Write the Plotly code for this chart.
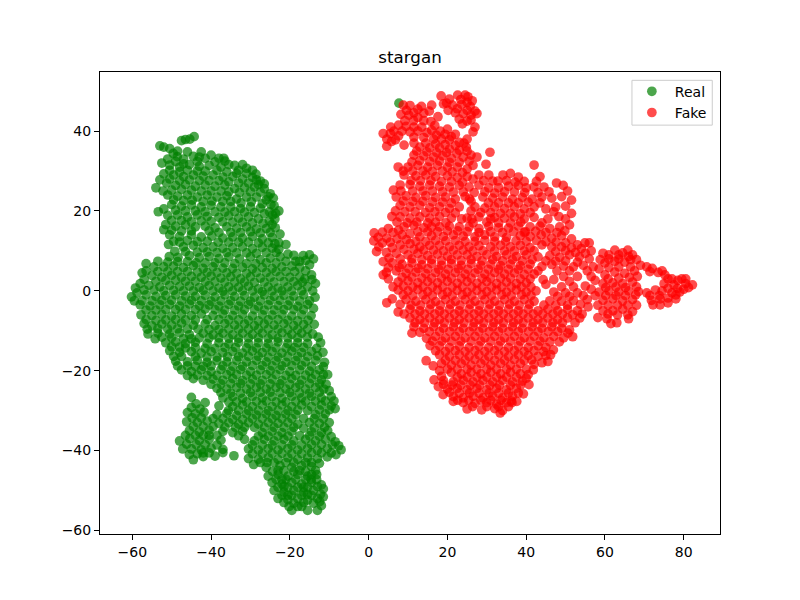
import plotly.graph_objects as go

# ------------------------
# Points (x, y)
# ------------------------

real_points = [
    (7.7, 47),
    (-47.5, 37.6), (-46.5, 37.9), (-45.4, 38), (-44.3, 38.6),
    (-53, 36.3), (-52, 36), (-50.5, 35.6), (-49.6, 34.4), (-48.6, 33.6),
    (-47, 33), (-44.5, 33.7), (-42.5, 34.8), (-41.5, 33.2), (-40, 34), (-38, 33.2),
    (-52.5, 32), (-50.5, 31.5), (-48, 31), (-45.5, 31.6), (-43, 31.2), (-40.5, 31.4), (-37.5, 31), (-35.5, 31.6), (-33, 30.2), (-31, 30.7), (-29.5, 30.2),
    (-52, 29.3), (-49.5, 29), (-47, 28.6), (-44.5, 29), (-42, 28.7), (-39.5, 29), (-37, 28.5), (-34.5, 28.6), (-32, 28), (-29.5, 28.4), (-27.5, 27.5),
    (-54, 25.8), (-51.3, 27), (-49, 26.4), (-46.5, 26.6), (-44, 26.2), (-41.5, 26.5), (-39, 26.2), (-36.5, 26.5), (-34, 25.6), (-31.5, 25.8), (-29, 26), (-26.5, 25.6), (-25, 24.3),
    (-51, 24), (-48.5, 23.7), (-46, 24), (-43.5, 23.5), (-41, 24), (-38.5, 23.5), (-36, 23.8), (-33.5, 23), (-31, 23.5), (-28.5, 23.5), (-26, 22.8), (-24, 21.3),
    (-50, 21.6), (-47.5, 21.2), (-45, 21.5), (-42.5, 21), (-40, 21.4), (-37.5, 21), (-35, 21), (-32.5, 20.6), (-30, 21), (-27.5, 20.7), (-25.2, 19.8), (-22.8, 20),
    (-53.4, 19.8), (-51, 18.9), (-48.5, 19), (-46, 18.5), (-43.5, 19), (-41, 18.6), (-38, 18.4), (-35.5, 18.8), (-33, 18.2), (-30.5, 18.5), (-28, 18), (-25.2, 17.5),
    (-51.5, 16.6), (-49, 16.2), (-46.5, 16.5), (-44, 16), (-41.5, 16.2), (-39, 15.8), (-36, 16), (-33.5, 15.7), (-31, 16), (-28.5, 15.5), (-26, 15.6), (-23.7, 15.8),
    (-50.5, 14), (-48, 13.6), (-45, 14), (-42.5, 13.5), (-39.8, 13.7), (-37, 13.2), (-34.5, 13.5), (-32, 13.2), (-29.5, 13.6), (-27, 13), (-24.5, 13.4), (-22.8, 12),
    (-50.8, 11.6), (-47, 11), (-44.5, 11.4), (-42, 10.8), (-39.5, 11), (-37, 10.7), (-34.5, 10.8), (-32, 11), (-29.5, 10.6), (-27, 10.9), (-24.5, 10.7), (-21, 11.6),
    (-50.6, 8.6), (-48.4, 8.4), (-45.5, 8.8), (-43, 8.3), (-40.5, 8.6), (-38, 8.1), (-35.5, 8.5), (-32.8, 8), (-30, 8.5), (-27.5, 7.8), (-25, 8.2), (-22.5, 8.5), (-19, 8.9), (-16.6, 8.8), (-15, 9),
    (-56.5, 6.8), (-54.5, 6), (-52, 6), (-49.5, 6.2), (-47, 5.8), (-44.5, 6.3), (-42, 5.6), (-39.5, 6), (-37, 5.7), (-34.5, 5.6), (-32, 5.9), (-29.5, 5.5), (-27, 5.8), (-24.5, 5.6), (-22, 6), (-19.5, 6.2), (-17.5, 5.8), (-15, 6.5),
    (-57.5, 4.5), (-55, 3.8), (-52.5, 3.4), (-50, 3.9), (-47.5, 3.4), (-45, 3.6), (-42.5, 3.4), (-40, 3.7), (-37.5, 3.2), (-35, 3.5), (-32.5, 3), (-30, 3.5), (-27.5, 3.2), (-25, 3.4), (-22.5, 3.6), (-20, 3.4), (-17.5, 3.5), (-14.5, 4),
    (-58, 1.8), (-55.8, 1.4), (-53, 1), (-50.5, 1.4), (-48, 1.1), (-45.5, 1.2), (-43, 0.8), (-40.5, 1.3), (-38, 0.7), (-35.5, 1), (-33, 0.9), (-30.5, 1.2), (-28, 0.5), (-25.5, 1), (-23, 0.7), (-20.5, 1), (-18, 1.3), (-15.5, 1), (-13.5, 1.8),
    (-60.2, -1.5), (-58.8, -0.5), (-56.5, -1), (-54, -1.4), (-51.5, -1.2), (-49, -1), (-46.5, -1.3), (-44, -1.4), (-41.5, -1.1), (-39, -1.5), (-36.5, -1), (-34, -1.4), (-31.5, -1.2), (-29, -1.6), (-26.5, -1), (-24, -1.4), (-21.5, -1.1), (-19, -1.3), (-16.5, -1), (-13.6, -1.6),
    (-58, -3.5), (-55.5, -3.8), (-53, -3.5), (-50.5, -3.4), (-48, -3.8), (-45.5, -3.3), (-43, -3.7), (-40.5, -3.5), (-38, -3.8), (-35.5, -3.4), (-33, -3.8), (-30.5, -3.4), (-28, -3.9), (-25.5, -3.5), (-23, -3.7), (-20.5, -3.6), (-18, -3.9), (-15.5, -3.4),
    (-57.8, -6), (-55, -6.2), (-52.5, -5.9), (-50, -6.3), (-47.5, -5.8), (-45, -6.2), (-42.5, -5.8), (-39.5, -6.2), (-37, -5.8), (-34.5, -6.2), (-32, -5.9), (-29.5, -6.3), (-27, -6), (-24.5, -6.1), (-22, -5.9), (-19.5, -6.3), (-17, -6), (-14.6, -6.2),
    (-57, -8.2), (-55, -8.8), (-52.5, -8.3), (-50, -8.6), (-47.5, -8.1), (-44.5, -8.6), (-41.5, -8.3), (-39, -8.7), (-36.5, -8.2), (-34, -8.6), (-31.5, -8.3), (-29, -8.7), (-26.5, -8.3), (-24, -8.6), (-21.5, -8.2), (-19, -8.7), (-16.5, -8.4), (-13.8, -8.4),
    (-56, -10.8), (-53.5, -10.6), (-50.5, -10.8), (-48, -10.5), (-45.5, -11), (-42, -10.6), (-39.5, -11), (-37, -10.6), (-34.5, -11), (-32, -10.6), (-29.5, -10.9), (-27, -10.6), (-24.5, -11), (-22, -10.5), (-19.5, -10.9), (-17, -10.6), (-14.2, -10.8),
    (-54.2, -12), (-51.5, -13), (-49, -12.8), (-46.5, -13.2), (-44, -12.9), (-41, -13.2), (-38, -13), (-35.5, -13.3), (-33, -12.9), (-30.5, -13.2), (-28, -13), (-25.5, -13.2), (-23, -12.8), (-20.5, -13.2), (-18, -13), (-15.5, -13.2), (-12.2, -13),
    (-50.5, -15), (-48, -15.4), (-45, -15.2), (-42.5, -15.6), (-40, -15.2), (-37, -15.5), (-34.5, -15.2), (-32, -15.6), (-29.5, -15.1), (-27, -15.5), (-24.5, -15.2), (-22, -15.6), (-19.5, -15.1), (-17, -15.5), (-14.5, -15.2), (-11.6, -15.4),
    (-49, -17.6), (-46, -17.8), (-43.5, -17.4), (-41, -17.9), (-38.5, -17.5), (-36, -17.8), (-33.5, -17.4), (-31, -17.8), (-28.5, -17.4), (-26, -17.8), (-23.5, -17.5), (-21, -17.9), (-18.5, -17.5), (-16, -17.8), (-13.5, -17.4), (-11.2, -17.9),
    (-47.5, -19.8), (-45, -20.2), (-42.5, -19.8), (-40, -20.2), (-37.5, -19.7), (-35, -20.1), (-32.5, -19.7), (-30, -20.2), (-27.5, -19.8), (-25, -20), (-22.5, -19.7), (-20, -20.2), (-17.5, -19.8), (-15, -20.1), (-12.5, -19.8),
    (-44.5, -22), (-42, -22.4), (-39.5, -22.1), (-37, -22.4), (-34.5, -22), (-32, -22.5), (-29.5, -22.1), (-27, -22.4), (-24.5, -22.1), (-22, -22.5), (-19.5, -22), (-17, -22.4), (-14.5, -22), (-12, -22.3), (-10.4, -21),
    (-38.5, -24.4), (-36, -24.6), (-33.5, -24.2), (-31, -24.6), (-28.5, -24.2), (-26, -24.6), (-23.5, -24.2), (-21, -24.6), (-18.5, -24.2), (-16, -24.6), (-13.5, -24.2), (-11.4, -24.6),
    (-37, -26.8), (-34.5, -26.5), (-32, -26.9), (-29.5, -26.4), (-27, -26.8), (-24.5, -26.5), (-22, -26.9), (-19.5, -26.4), (-17, -26.8), (-14.5, -26.4), (-12, -26.8), (-9.5, -26.5),
    (-45, -26.7), (-43.8, -28.3), (-41.5, -28), (-38, -28.8),
    (-34.5, -29), (-32, -28.6), (-29.5, -29), (-27, -28.6), (-24.5, -29), (-22, -28.6), (-19.5, -29), (-17, -28.6), (-14.5, -29), (-12, -28.6), (-9.5, -28.8),
    (-46, -30.5), (-44, -30.8), (-41.8, -30.4), (-38.5, -31), (-36, -30.7), (-33.5, -31.2), (-31, -30.8), (-28.5, -31.1), (-26, -30.8), (-23.5, -31.2), (-21, -30.8), (-18.5, -31), (-13.5, -31), (-11, -30.8), (-8.5, -29.5),
    (-46.2, -32.8), (-43.5, -33), (-41, -32.6), (-38, -33.2), (-35.5, -33), (-33, -33.4), (-30.5, -33), (-28, -33.4), (-25.5, -33), (-23, -33.2), (-20.5, -33), (-18, -33.4), (-15, -33), (-12.5, -33.2), (-10, -33),
    (-45.5, -35), (-43, -35.3), (-40.5, -34.9), (-37, -35.2), (-34.5, -35.5), (-32, -35.2), (-27, -35.5), (-24.5, -35.2), (-22, -35.5), (-19.5, -35.2), (-14.5, -35.3), (-12, -35.5), (-10.4, -35),
    (-45.4, -37), (-48, -37.6), (-43, -37.5), (-40.5, -37.2), (-37.5, -37.4), (-31.5, -37.2), (-29, -37.6), (-26.5, -37.2), (-24, -37.6), (-21.5, -37.2), (-19, -37.6), (-16, -37.2), (-13.5, -37.6), (-11, -37.2), (-8.5, -37.8),
    (-47.2, -39.6), (-45, -39.6), (-42.5, -39.8), (-40, -39.4), (-37, -39.7), (-30.5, -39.6), (-28, -39.9), (-25.5, -39.5), (-23, -39.9), (-20.5, -39.5), (-18, -39.9), (-15.5, -39.5), (-13, -39.9), (-10.5, -39.5), (-7, -39.8), (-8.3, -41),
    (-45.5, -41), (-44.5, -42.3), (-42, -41.5), (-39, -41.4), (-34.2, -41.3), (-37, -40.5),
    (-30.5, -42), (-28, -42.2), (-25.5, -41.8), (-23, -42.2), (-20.5, -41.8), (-18, -42.2), (-15.5, -41.8), (-13, -42), (-10.5, -41.6),
    (-29.2, -43.5), (-26, -44.2), (-22.5, -43.8), (-19.5, -44.2), (-17, -43.8), (-14.5, -44),
    (-25.5, -46.4), (-23, -46), (-20.5, -46.4), (-18, -46), (-15.5, -46.4), (-13.2, -46),
    (-24.5, -48), (-22, -48.4), (-19.5, -48), (-17, -48.4), (-14.5, -48), (-12, -48.6),
    (-24, -50), (-21.5, -50.4), (-19, -50), (-16.5, -50.4), (-14, -50), (-11.5, -49.6),
    (-23, -52), (-20.5, -52.3), (-18, -52), (-15.5, -52.4), (-13, -52), (-11.5, -51.6),
    (-20.2, -54), (-19.5, -55), (-17, -54), (-15.5, -55), (-13, -55), (-12, -53.8),
]

# denser second pass over the same cloud, holes left where the picture shows white
real_more = [
    (-46, 34.8), (-43.5, 32.4), (-39, 32.3), (-36.5, 32.5), (-34, 31.4), (-51, 33), (-49, 32.4),
    (-50.5, 30.2), (-46, 30.2), (-41.5, 30), (-38.5, 30.2), (-33.5, 29.4), (-31, 29.4), (-28.6, 29.2),
    (-53, 27.8), (-48, 27.6), (-45.5, 27.8), (-40.5, 27.6), (-35.5, 27.3), (-30.5, 27), (-26.5, 26.8),
    (-50, 25.2), (-47.5, 25.4), (-42.5, 25), (-37.5, 25), (-32.8, 24.6), (-27.5, 24.7), (-24.2, 23.2),
    (-49.5, 22.8), (-44.8, 22.7), (-39.8, 22.5), (-35, 22.4), (-29.8, 22.3), (-27, 21.8), (-23.6, 19.4),
    (-52, 20.5), (-46.5, 20), (-41.5, 19.8), (-36.5, 19.7), (-31.5, 19.7), (-26.5, 19.3), (-23.8, 18),
    (-50, 17.6), (-45, 17.3), (-42.5, 17.5), (-37, 17.3), (-34.5, 17.2), (-29.5, 17), (-24.5, 16.6),
    (-52, 15.3), (-47.5, 15), (-40.5, 15), (-38, 14.6), (-32.5, 14.6), (-27.5, 14.5), (-22.5, 14.2),
    (-49.5, 12.4), (-46, 12.6), (-41, 12.4), (-35.5, 12.2), (-30.5, 12.2), (-25.5, 12), (-22.8, 10.4),
    (-49.2, 9.9), (-43.5, 9.7), (-38.5, 9.6), (-33.5, 9.5), (-28.5, 9.4), (-23.5, 9.6), (-20.5, 9.2), (-17.5, 7.4),
    (-53.5, 7.4), (-51, 7.2), (-46, 7.3), (-41.5, 7), (-36.5, 7), (-31, 6.8), (-26, 7), (-21, 7.4), (-16, 7.6), (-14, 8),
    (-56.5, 5), (-53.5, 4.8), (-48.5, 4.8), (-43.5, 4.7), (-38.5, 4.6), (-33.5, 4.4), (-28.5, 4.6), (-23.5, 4.8), (-18.8, 4.8), (-16, 5),
    (-57, 2.9), (-54, 2.4), (-49, 2.6), (-44, 2.4), (-39, 2.3), (-34, 2.2), (-29, 2.1), (-24, 2.2), (-19, 2.3), (-14.4, 2.8),
    (-59.2, 0.7), (-57, 0.2), (-52, 0), (-47, 0), (-42, 0.1), (-37, -0.1), (-32, 0), (-27, -0.2), (-22, 0), (-17, 0), (-14.2, 0),
    (-59.5, -2.5), (-55, -2.5), (-50, -2.4), (-45, -2.4), (-40, -2.6), (-35, -2.5), (-30, -2.6), (-25, -2.4), (-20, -2.5), (-15, -2.5),
    (-56.5, -4.8), (-51.5, -4.7), (-46.5, -4.7), (-41.5, -4.6), (-36.5, -4.8), (-31.5, -4.7), (-26.5, -4.8), (-21.5, -4.7), (-16.5, -4.7), (-14, -4.4),
    (-54, -7.4), (-49, -7.2), (-44, -7.3), (-38, -7.2), (-33, -7.3), (-28, -7.5), (-23, -7.2), (-18, -7.5), (-15.4, -7.4),
    (-56.2, -9.6), (-51, -9.6), (-46, -9.5), (-40.5, -9.7), (-35.5, -9.6), (-30.5, -9.6), (-25.5, -9.6), (-20.5, -9.7), (-15.5, -9.6),
    (-52.5, -11.6), (-47, -12), (-43, -11.8), (-38, -11.8), (-33, -11.9), (-28, -11.8), (-23, -11.9), (-18, -11.8), (-15.6, -11.6), (-12.8, -11.6),
    (-50, -14), (-46.5, -14.3), (-41.5, -14.4), (-36.5, -14.2), (-31, -14.3), (-26, -14.3), (-21, -14.3), (-16.5, -14.2), (-13.2, -14.4),
    (-47.5, -16.4), (-44, -16.5), (-38.5, -16.6), (-33, -16.5), (-28, -16.4), (-23, -16.6), (-18, -16.5), (-13, -16.3),
    (-48.5, -18.8), (-44, -18.9), (-40, -18.8), (-34.5, -18.9), (-29.5, -18.7), (-24.5, -18.8), (-19.5, -18.7), (-14.5, -18.9), (-11.5, -19),
    (-46, -21.2), (-41, -21.2), (-36, -21), (-31, -21.1), (-26, -21), (-21, -21.2), (-16, -21.1), (-11.5, -21),
    (-40, -23.4), (-35, -23.2), (-30, -23.3), (-25, -23.3), (-20, -23.4), (-15, -23.2), (-10.8, -23.4),
    (-37.5, -25.5), (-32.5, -25.6), (-27.5, -25.4), (-22.5, -25.5), (-17.5, -25.6), (-12.5, -25.4), (-10, -25),
    (-35.5, -27.8), (-31, -27.8), (-26, -27.6), (-21, -27.8), (-16, -27.7), (-11, -27.6), (-8.8, -27.6),
    (-42.8, -29.6), (-45, -29.2), (-33, -30), (-28, -30), (-23, -30), (-18, -29.9), (-12.5, -29.8), (-10, -29.8),
    (-44.8, -31.8), (-42.5, -31.8), (-39.5, -32), (-34.5, -32.2), (-29.5, -32), (-24.5, -32), (-19.5, -32), (-16.5, -32), (-11.5, -32),
    (-44.5, -34), (-39.5, -34), (-36.5, -34.2), (-31.5, -34.2), (-26.5, -34.2), (-21.5, -34.2), (-16.5, -34.4), (-11.2, -34.2),
    (-46.5, -36.2), (-42, -36.2), (-38.5, -36.2), (-33, -36.3), (-28, -36.4), (-23, -36.4), (-17.5, -36.3), (-12.5, -36.4), (-9.5, -36.5),
    (-46.2, -38.4), (-41.5, -38.5), (-38.5, -38.6), (-29.5, -38.6), (-24.5, -38.6), (-19.5, -38.6), (-14.5, -38.5), (-9.2, -38.6), (-7.6, -38.8),
    (-43.5, -40.8), (-40.5, -40.6), (-29.5, -40.8), (-24.5, -40.7), (-19.5, -40.8), (-14.5, -40.6), (-9.5, -40.6),
    (-27.5, -43), (-24, -43), (-21, -43), (-16, -43), (-12.5, -43.2),
    (-24.4, -45.2), (-21.5, -45), (-19, -45.2), (-16, -45.2), (-13.5, -45),
    (-23.5, -47.2), (-21, -47.2), (-18.5, -47.2), (-16, -47.2), (-13.2, -47.3),
    (-23, -49.2), (-20.5, -49.2), (-18, -49.2), (-15.5, -49.2), (-13, -49),
    (-22, -51.2), (-19.5, -51.2), (-17, -51.2), (-14.5, -51.2), (-12.2, -50.9),
    (-21.5, -53), (-19, -53.2), (-16.5, -53), (-14, -53.2), (-12.4, -52.8),
]

# third pass, fills the lattice gaps in the green cloud
real_fill = [
    (-48.5, 35), (-43, 33.5), (-36.8, 33.2), (-32, 31.6), (-47, 31.8), (-48, 29.8), (-43.5, 30), (-36, 29.8), (-28.5, 27.8),
    (-50.5, 28), (-43, 27.6), (-38, 27.6), (-33, 27), (-28, 26.6), (-52.2, 25), (-45, 25.2), (-40, 25), (-35.5, 24.8), (-30, 24.8), (-25.5, 23.6),
    (-47, 22.6), (-42, 22.4), (-37, 22.4), (-32.4, 22), (-24.8, 21.6), (-49, 20.2), (-44, 20), (-39, 19.8), (-34, 19.8), (-29, 19.6), (-24.4, 19),
    (-47.5, 17.6), (-40, 17.4), (-32, 17.2), (-26.8, 16.9), (-50, 15.2), (-45, 15), (-35, 14.6), (-30, 14.8), (-25, 14.6),
    (-48, 12.2), (-43.5, 12.3), (-38.2, 12.2), (-33, 12.2), (-28, 12), (-23.8, 11.8), (-46.5, 9.8), (-41, 9.7), (-36, 9.6), (-31, 9.5), (-26, 9.6),
    (-48.5, 7.3), (-43.8, 7), (-39, 7), (-34, 6.8), (-28.7, 6.8), (-23.5, 7), (-18.5, 7.4), (-51, 4.8), (-46, 4.8), (-41, 4.6), (-36, 4.5), (-31, 4.4), (-26, 4.6), (-21, 4.8), (-16.2, 3),
    (-51.5, 2.6), (-46.5, 2.4), (-41.5, 2.3), (-36.5, 2.2), (-31.5, 2.2), (-26.5, 2.2), (-21.5, 2.3), (-16.8, 2.2),
    (-54.5, 0.2), (-49.5, 0.1), (-44.5, 0), (-39.5, 0), (-34.5, 0), (-29.5, 0), (-24.5, 0), (-19.5, 0), (-57.5, -2.5), (-52.5, -2.4), (-47.5, -2.5), (-42.5, -2.5), (-37.5, -2.5), (-32.5, -2.6), (-27.5, -2.5), (-22.5, -2.4), (-17.5, -2.5),
    (-54, -4.8), (-49, -4.7), (-44, -4.7), (-39, -4.7), (-34, -4.8), (-29, -4.7), (-24, -4.8), (-19, -4.7), (-56.5, -7.2), (-51.5, -7.3), (-46.5, -7.3), (-41, -7.2), (-35.5, -7.3), (-30.5, -7.4), (-25.5, -7.3), (-20.5, -7.4),
    (-53.5, -9.5), (-48.5, -9.5), (-43.3, -9.6), (-38, -9.7), (-33, -9.6), (-28, -9.6), (-23, -9.6), (-18, -9.7), (-50, -11.7), (-45, -12), (-40.5, -11.8), (-35.5, -11.9), (-30.5, -11.8), (-25.5, -11.9), (-20.5, -11.8),
    (-48, -14.1), (-44, -14.2), (-39, -14.4), (-33.8, -14.2), (-28.5, -14.3), (-23.5, -14.3), (-18.8, -14.2), (-49.5, -16.4), (-41, -16.6), (-35.8, -16.5), (-30.5, -16.4), (-25.5, -16.6), (-20.5, -16.5), (-15.5, -16.4),
    (-46, -18.8), (-42, -18.9), (-37, -18.8), (-32, -18.9), (-27, -18.7), (-22, -18.8), (-17, -18.7), (-43.5, -21.1), (-38.5, -21.2), (-33.5, -21), (-28.5, -21.1), (-23.5, -21), (-18.5, -21.2), (-13.5, -21),
    (-37.5, -23.3), (-32.5, -23.2), (-27.5, -23.3), (-22.5, -23.3), (-17.5, -23.4), (-12.5, -23.2), (-35, -25.6), (-30, -25.5), (-25, -25.4), (-20, -25.5), (-15, -25.6), (-33.5, -27.8), (-28.5, -27.7), (-23.5, -27.8), (-18.5, -27.7), (-13.5, -27.6),
    (-35.6, -30), (-30.5, -30), (-25.5, -30), (-20.5, -30), (-15.5, -30), (-37, -32), (-32, -32.2), (-27, -32), (-22, -32), (-13.8, -32), (-42, -34), (-33.8, -34.2), (-29, -34.2), (-24, -34.2), (-19, -34.2), (-13.8, -34.3),
    (-44, -36.2), (-40.5, -36.2), (-25.5, -36.4), (-20.5, -36.4), (-15, -36.3), (-43.8, -38.5), (-27, -38.6), (-22, -38.6), (-17, -38.6), (-12, -38.5), (-27, -40.8), (-22, -40.7), (-17, -40.8), (-12, -40.6), (-42, -40.6),
    (-25.8, -43), (-19, -43), (-14.5, -43), (-23, -45), (-17.5, -45), (-14.5, -46), (-22, -47.2), (-14.6, -47.2), (-21.5, -49), (-16.5, -49.2), (-20.5, -51.2), (-15.5, -51), (-18, -54),
]

fake_points = [
    (18.4, 48.8), (20.5, 48), (22.6, 49), (24.5, 49), (25.2, 48.6), (26.3, 47.6),
    (19, 46.8), (21.3, 46.5), (23.6, 46.7), (25.8, 46.2), (27, 45),
    (16, 46.5), (15.4, 45), (22, 44.6), (24, 44.4), (26, 44), (27.5, 44.4),
    (8.8, 46.5), (10.5, 46.4), (12.5, 45.5), (14, 44.5), (8.2, 44.2), (10.2, 44), (12.5, 43.4), (15.8, 42.4), (17.6, 43.6), (23.8, 41.8), (25, 42.5),
    (5.6, 41), (7.6, 41.5), (9.5, 41.2), (11.5, 41), (13.5, 41), (16, 40.2), (18.2, 40), (20, 40.5), (22, 39.2), (26.5, 39.8), (27, 41),
    (3.7, 39.4), (5.5, 39.4), (7.6, 38.8), (11.5, 38.5), (14, 38.4), (16.5, 38), (18.5, 38), (20.5, 37.8), (23, 37.2), (25, 38),
    (4.6, 36.2), (5.8, 37.4), (9, 36.5), (13, 36), (15.5, 35.8), (18, 35.8), (20.5, 35.5), (23, 35.2), (24.8, 36),
    (11.5, 34), (14, 33.8), (16.5, 33.5), (18.8, 33.8), (21, 33.2), (24, 33.5), (26, 34), (27.5, 33.5), (30.8, 34.7),
    (7.5, 31), (10, 31), (12.5, 31.4), (15, 31), (17.5, 31.4), (20, 31), (22.5, 31), (25, 30.5), (26.5, 31.4), (29.8, 31.7), (42, 31.5),
    (9, 29), (12, 28.8), (14.5, 29), (17, 28.6), (20, 28.8), (22.5, 28.4), (25, 28.6), (28, 29), (30.5, 29), (32.8, 27.5), (34.1, 29), (36, 29.4), (38, 28.5),
    (6.3, 25.2), (8, 26.5), (10.5, 26.6), (13, 26.2), (15.5, 26.5), (18, 26.2), (20.5, 26), (23, 26.4), (25.5, 26), (28, 26.5), (30.5, 25.8), (33, 25.8), (35.5, 26.2), (38, 26.4), (40, 25.8), (43.5, 28.6), (42, 26), (44.5, 26), (47.7, 27), (49.4, 26.4),
    (7, 23.5), (9.5, 23.8), (12, 23.4), (14.5, 23.8), (17, 23.4), (19.5, 23.5), (22, 23), (24.5, 23.6), (29, 23.5), (31.5, 23.2), (34, 23.5), (36.5, 23), (39, 23.4), (41.5, 23), (44, 23.5), (46.5, 23.2), (49, 23.6), (51.5, 22.7),
    (8, 21.4), (10.5, 21), (13, 21.4), (15.5, 20.8), (18, 21), (20.5, 20.6), (23, 21), (27, 21), (29.5, 20.7), (32, 21), (34.5, 20.6), (37, 21), (39.5, 20.5), (42, 21), (45, 20.5), (47.5, 21), (50, 21.2),
    (5.9, 18.6), (8, 18.5), (10.5, 18.2), (13, 18.5), (15.5, 18.2), (18, 18.6), (21, 18.2), (25, 18.2), (28, 18.5), (32, 18.4), (34.5, 18.2), (37, 18.5), (39.5, 18), (42, 18.4), (45.5, 18), (48.3, 18.6), (51.5, 19.4),
    (9, 16), (11.5, 16.4), (14, 15.8), (18, 16), (20.5, 16.2), (23, 16), (25.5, 16), (28, 15.6), (30.5, 16.2), (33, 15.8), (35.5, 15.7), (38, 16.2), (41, 16), (43.5, 16.2), (46, 15.6), (48.5, 16), (51, 16.5),
    (1.4, 14.5), (3.5, 14.7), (6.2, 14.6), (8.5, 14), (10.5, 14.3), (13, 13.5), (16, 13.8), (19, 13.6), (21.5, 14), (24, 13.7), (27, 13.5), (29.5, 14), (32, 13.5), (35, 13.4), (38.5, 13.8), (41, 13.6), (43.8, 14), (46.5, 13.2), (49, 13.8), (51.5, 13), (54.9, 12), (56, 12),
    (1.3, 12.5), (3.5, 12), (5.5, 12.2), (8, 11.5), (10.5, 11.8), (13, 11), (15.5, 11.4), (18, 11.4), (20.5, 11), (23, 11.4), (25.5, 11), (28, 11.3), (31, 11), (33.5, 11.4), (36, 11), (38.5, 11.4), (41, 10.8), (44, 11.5), (46.5, 11), (49, 11), (51.5, 10.8), (54, 10.6), (56.5, 10),
    (2, 9.8), (4.5, 9.6), (7, 9.4), (10, 9), (12.5, 9.4), (15, 8.8), (17.5, 9.2), (20, 8.7), (22.5, 9), (25, 9), (27.5, 8.6), (30, 9), (32.5, 8.6), (35, 9), (37.5, 8.6), (40, 9), (43, 8.5), (46, 8.8), (48.5, 8.4), (51, 9), (53.5, 8.5), (56, 8), (59.5, 9.4), (62.5, 10.2), (64.5, 9.5), (65.8, 10.2), (67, 9),
    (3.7, 7.3), (6, 7), (8.5, 6.6), (11, 7), (13.5, 6.5), (16, 6.8), (18.5, 6.4), (21, 6.8), (23.5, 6.4), (26, 6.8), (28.5, 6.4), (31, 6.7), (33.5, 6.3), (36, 6.7), (38.5, 6.3), (41, 6.7), (44, 6.1), (46.5, 6.6), (49.5, 6.2), (52, 6), (54.5, 6.4), (57, 6), (60, 7), (62.5, 7.4), (65, 7.2), (68, 7.8), (70.6, 6), (72, 5.6),
    (4.5, 4.6), (7, 5), (9.5, 4.4), (12, 4.7), (14.5, 4.3), (17, 4.6), (19.5, 4.2), (22, 4.6), (24.5, 4.2), (27, 4.5), (29.5, 4.2), (32, 4.6), (34.5, 4.2), (37, 4.5), (39.5, 4.1), (42, 4.2), (44.3, 2.8), (47, 2.8), (49.5, 3.6), (53, 3.6), (56.5, 3.6), (60, 4), (62.5, 4.7), (65, 4.4), (67.5, 5), (73.5, 4.6), (75.2, 4), (77, 3),
    (3.7, 4), (7.5, 2.2), (10, 2.5), (12.5, 2), (15, 2.3), (17.5, 2), (20, 2.4), (22.5, 1.9), (25, 2.3), (27.5, 1.9), (30, 2.3), (32.5, 1.8), (35, 2.2), (37.5, 1.8), (40, 2), (49, 1), (52, 1), (55, 1.2), (59.5, 1.8), (62, 2), (64.5, 1.8), (67, 2.2), (75, 1.8), (77.5, 1.5), (79.5, 3), (80.5, 1.8), (82.2, 1.5),
    (7.5, 0.2), (10, 0), (12.5, 0.3), (15, -0.2), (17.5, 0.2), (20, -0.3), (22.5, 0.1), (25, -0.3), (27.5, 0.1), (30, -0.2), (32.5, 0.2), (35, -0.3), (37.5, 0.2), (40, -0.3), (42.5, 0), (47, -0.3), (50, -0.5), (53, -0.5), (58.5, -0.3), (61, 0), (63.5, -0.3), (66, 0), (68.5, -0.2), (70.6, -0.5), (72.8, 0.2), (74.5, 0), (77, -0.5), (79, -0.3),
    (4.6, -3), (6, -2), (9.5, -2.2), (12, -2.6), (14.5, -2.2), (17, -2.7), (19.5, -2.2), (22, -2.6), (24.5, -2.2), (27, -2.6), (29.5, -2.2), (32, -2.6), (34.5, -2.2), (37, -2.6), (39.5, -2.2), (42, -2.6), (46, -2.5), (49, -2.6), (52, -2.5), (55.5, -2.2), (59.5, -2.4), (62, -2), (64.5, -2.5), (67, -2.2), (71.8, -2.4), (74, -2), (76, -3), (78, -2),
    (7.5, -5.3), (10.5, -4.6), (13, -5), (15.5, -4.6), (18, -5), (20.5, -4.6), (23, -5), (25.5, -4.6), (28, -5), (30.5, -4.6), (33, -5), (35.5, -4.6), (38, -5), (40.5, -4.6), (43, -5), (45.5, -4.6), (48, -5), (50.5, -4.6), (53, -5), (55.7, -4), (59.5, -5), (62, -5), (64.5, -4.6), (67, -5.2), (72.2, -3.5), (74, -3.5),
    (10.5, -6.8), (13, -7.2), (15.5, -6.8), (18, -7.2), (20.5, -6.8), (23, -7.2), (25.5, -6.8), (28, -7.2), (30.5, -6.8), (33, -7.2), (35.5, -6.8), (38, -7.2), (40.5, -6.8), (43, -7.2), (45.5, -6.8), (48, -7.2), (50.5, -6.8), (52.4, -8), (58.2, -6.7), (60.5, -7), (63, -8), (66, -7),
    (11.5, -9), (14, -9.4), (16.5, -9), (19, -9.4), (21.5, -9), (24, -9.4), (26.5, -9), (29, -9.4), (31.5, -9), (34, -9.4), (36.5, -9), (39, -9.4), (41.5, -9), (44, -9.4), (46.5, -9), (49, -9.4), (51, -9.8),
    (11, -10.6), (14.7, -11.9), (17, -11.4), (19.5, -11.8), (22, -11.4), (24.5, -11.8), (27, -11.4), (29.5, -11.8), (32, -11.4), (34.5, -11.8), (37, -11.4), (39.5, -11.8), (42, -11.4), (44.5, -11.8), (47, -11.4), (49.5, -11.8), (51.8, -11.5),
    (15.6, -13.7), (18, -13.8), (20.5, -14.2), (23, -13.8), (25.5, -14.2), (28, -13.8), (30.5, -14.2), (33, -13.8), (35.5, -14.2), (38, -13.8), (40.5, -14.2), (43, -13.8), (45, -14.2), (46.9, -14.8),
    (18, -16), (20.5, -16.4), (23, -16), (25.5, -16.4), (28, -16), (30.5, -16.4), (33, -16), (35.5, -16.4), (38, -16), (40.5, -16.2), (43, -16.4), (45, -16.2),
    (14.6, -17.5), (16.4, -18.8), (18.5, -18.2), (21, -18.6), (23.5, -18.2), (26, -18.6), (28.5, -18.2), (31, -18.6), (33.5, -18.2), (36, -18.6), (38.5, -18.2), (41.4, -17.3), (41.8, -19.8), (44, -18), (45.5, -17.7),
    (21, -20.5), (23.5, -20.8), (26, -20.4), (28.5, -20.8), (31, -20.4), (33.5, -20.8), (36, -20.4), (38.5, -20.8), (40.5, -21),
    (16.6, -22.3), (19, -22.5), (21.5, -22.8), (24, -22.4), (26.5, -22.8), (29, -22.4), (31.5, -22.8), (34, -22.4), (36.5, -22.8), (39, -22.6),
    (17.7, -24), (20, -24.6), (22.5, -24.4), (25, -24.8), (27.5, -24.4), (30, -24.8), (32.5, -24.4), (35, -24.8), (37.5, -24.4), (40.7, -23.5),
    (18.9, -26), (21.5, -26.5), (24, -26.8), (26.5, -26.4), (29, -26.8), (31.5, -26.4), (34, -26.8), (36.5, -26.4), (39.3, -25.8),
    (21.5, -27.7), (24, -28), (27, -28.2), (30, -28), (32.5, -28.4), (35, -28), (37.6, -27.7),
    (25, -29.6), (28.7, -29.8), (32, -29.5), (33.4, -30.6), (34, -30), (35.5, -29),
]

# denser second pass for the fake cloud
fake_more = [
    (19.8, 47), (23.4, 47.9), (25, 47.2), (20.2, 45.2), (22.5, 45.6), (25, 45.2), (23, 43), (26, 42.8),
    (9.6, 45.2), (11.5, 44.6), (13.4, 46.2), (9.2, 42.6), (11.4, 42.6), (14, 42.6), (16.8, 41.4), (6.4, 40), (8.5, 40), (10.5, 39.8), (12.5, 40), (14.8, 39.6), (17.2, 39), (19.4, 39.2), (21, 38.6),
    (6.8, 37.8), (4.6, 38), (11.5, 37), (14.5, 37), (17, 36.8), (19.4, 36.6), (22, 36.4), (24.2, 37), (12.2, 35), (14.8, 34.8), (17.3, 34.6), (19.8, 34.6), (22.4, 34.4), (25, 35),
    (13, 32.6), (15.5, 32.4), (18, 32.5), (20.5, 32.2), (23, 32.2), (25.5, 32.5), (11, 32.3), (8.8, 30), (11.2, 30), (13.8, 30), (16.2, 29.9), (18.7, 30), (21.2, 29.8), (23.8, 29.6),
    (31.5, 27.5), (26.5, 28), (10.8, 27.6), (13.2, 27.6), (15.8, 27.6), (18.5, 27.4), (21, 27.4), (23.8, 27.2), (29.2, 27.6), (35, 27.6), (37.2, 27.2), (39.5, 27.4), (42.6, 27.4),
    (8.2, 25), (11.2, 25), (13.8, 25), (16.2, 25), (18.8, 24.8), (21.5, 24.7), (24, 24.8), (26.8, 24.6), (29.5, 24.8), (32, 24.5), (34.5, 24.8), (37, 24.8), (39.6, 24.6), (43, 24.6), (45.8, 24.8), (50.5, 25),
    (8.8, 22.5), (11.2, 22.4), (13.8, 22.4), (16.2, 22.3), (18.8, 22.2), (21, 22), (26, 22.4), (30.4, 22), (33, 22), (35.5, 22), (38, 22), (40.5, 22.2), (43.5, 22),
    (6.8, 20), (9.2, 19.8), (11.8, 19.8), (14.4, 19.6), (16.8, 19.8), (19.5, 19.6), (22, 19.5), (28.5, 19.6), (31, 19.6), (33.5, 19.4), (36, 19.4), (38.5, 19.3), (41, 19.6), (47, 19.8), (50, 18),
    (7.2, 17.2), (9.8, 17), (12.2, 17.2), (15, 17), (17, 17.2), (19.6, 17), (26.5, 17), (30, 17.2), (33, 17), (36, 17), (38.6, 17.2), (44, 17), (49.8, 15),
    (5, 15.6), (7.6, 15.2), (12.5, 14.8), (15, 14.8), (17.5, 14.8), (20, 15), (22.6, 15), (25, 14.8), (28, 14.6), (31, 14.8), (34, 14.6), (36.8, 14.8), (39.8, 14.8), (42.4, 14.9), (45, 14.6), (47.8, 14.6),
    (2.4, 13.4), (4.6, 13.2), (7.2, 13), (9.6, 12.8), (12, 12.4), (14.5, 12.4), (17, 12.6), (19.6, 12.5), (22, 12.6), (24.5, 12.4), (27, 12.4), (29.5, 12.6), (32, 12.4), (34.8, 12.4), (37.4, 12.5), (40, 12.4), (42.6, 12.6), (45, 12.3), (47.6, 12.2), (50, 12), (53, 11.5),
    (2.6, 11), (6, 10.8), (9, 10.4), (11.5, 10.4), (14, 10.2), (16.5, 10.2), (19, 10), (21.5, 10.2), (24, 10.2), (26.5, 10), (29, 10), (32, 10), (34.5, 10), (37, 10), (39.5, 10), (42, 10), (47.5, 9.8), (50, 10), (52.5, 9.6), (55, 9.4), (61, 9), (63.5, 9), (66, 8.6),
    (5.2, 8.2), (8, 8), (11, 8), (13.5, 7.8), (16, 7.8), (18.5, 7.6), (21, 7.8), (23.5, 7.6), (26, 7.8), (28.8, 7.5), (31.5, 7.8), (34, 7.5), (36.5, 7.8), (39, 7.5), (41.5, 7.8), (45, 7.5), (47.5, 7.4), (50, 7.5), (53, 7.2), (58.8, 7.8), (61, 8), (63.5, 8), (66.5, 7.8),
    (5, 5.8), (7.8, 5.8), (10.2, 5.6), (12.6, 5.6), (15, 5.5), (17.8, 5.4), (20.2, 5.4), (22.8, 5.5), (25.2, 5.4), (27.8, 5.4), (30.4, 5.4), (33, 5.4), (35.5, 5.4), (38, 5.4), (40.5, 5.4), (43, 5), (47.8, 5), (51, 5), (55.5, 5), (58.5, 5.5), (61, 5.8), (63.5, 6), (66.5, 6), (69, 6.4), (71.4, 4.8), (74.5, 5),
    (5, 3), (8.5, 3.4), (11, 3.4), (13.5, 3.2), (16, 3.2), (18.5, 3.2), (21, 3.2), (23.5, 3.2), (26, 3.2), (28.8, 3.1), (31, 3.2), (33.5, 3.2), (36, 3.2), (38.5, 3), (41, 3), (45, 1.6), (51, 2.4), (57.5, 2.6), (60.8, 3), (63.5, 3.2), (66.2, 3.4), (68.2, 3.6), (76, 3), (78.5, 2.6), (80.5, 3),
    (6.2, 1), (8.8, 1.2), (11.2, 1), (13.8, 1), (16.2, 1), (18.8, 1), (21.2, 1), (23.8, 1), (26.2, 1), (28.8, 1), (31.2, 1), (33.8, 1), (36.2, 1), (38.8, 1), (41.2, 1), (56.5, 0.4), (60.2, 0.8), (62.8, 1), (65.2, 0.8), (68, 1), (76, 0.6), (78.4, 0.6), (80, 0.4), (81.2, 0.8),
    (8.8, -1), (11.2, -1.2), (13.8, -1), (16.2, -1.2), (18.8, -1), (21.2, -1.2), (23.8, -1), (26.2, -1.2), (28.8, -1), (31.2, -1.2), (33.8, -1), (36.2, -1.2), (38.8, -1), (41.2, -1.2), (48, -1.4), (51, -1.4), (54.5, -1.2), (57.5, -1.2), (60.2, -1.2), (62.8, -1.2), (65.2, -1.2), (67.8, -1), (71.4, -1.2), (73.8, -1.2), (76, -1.8), (78, -1),
    (8, -3.4), (10.8, -3.6), (13.2, -3.6), (15.8, -3.4), (18.2, -3.6), (20.8, -3.4), (23.2, -3.6), (25.8, -3.4), (28.2, -3.6), (30.8, -3.4), (33.2, -3.6), (35.8, -3.4), (38.2, -3.6), (40.8, -3.4), (44.5, -3.6), (47.5, -3.6), (50.5, -3.6), (53.8, -3.4), (58.2, -3.6), (60.8, -3.6), (63.2, -3.6), (65.8, -3.6), (68, -3.6),
    (9, -5.8), (11.8, -5.8), (14.2, -5.8), (16.8, -5.8), (19.2, -5.8), (21.8, -5.8), (24.2, -5.8), (26.8, -5.8), (29.2, -5.8), (31.8, -5.8), (34.2, -5.8), (36.8, -5.8), (39.2, -5.8), (41.8, -5.8), (44.2, -5.8), (46.8, -5.8), (49.2, -5.8), (51.8, -6), (54.2, -5.8), (60.8, -5.8), (63.2, -6), (65.8, -6),
    (11.8, -8), (14.2, -8), (16.8, -8), (19.2, -8), (21.8, -8), (24.2, -8), (26.8, -8), (29.2, -8), (31.8, -8), (34.2, -8), (36.8, -8), (39.2, -8), (41.8, -8), (44.2, -8), (46.8, -8), (49.2, -8), (53.6, -6.8), (61.5, -8.2),
    (13, -10.4), (15.4, -10.2), (18, -10.2), (20.6, -10.2), (23, -10.2), (25.6, -10.2), (28, -10.2), (30.6, -10.2), (33, -10.2), (35.6, -10.2), (38, -10.2), (40.6, -10.2), (43, -10.2), (45.6, -10.2), (48, -10.2), (50.6, -10.6),
    (16.2, -12.6), (18.6, -12.6), (21, -12.6), (23.4, -12.6), (26, -12.6), (28.5, -12.6), (31, -12.6), (33.5, -12.6), (36, -12.6), (38.5, -12.6), (41, -12.6), (43.5, -12.6), (46, -12.8), (48.4, -12.8),
    (17, -15), (19.5, -15.2), (22, -15), (24.5, -15.2), (27, -15), (29.5, -15.2), (32, -15), (34.5, -15.2), (37, -15), (39.5, -15.2), (42, -15), (44.4, -15.2), (46.2, -16),
    (19.5, -17.4), (22, -17.4), (24.5, -17.4), (27, -17.2), (29.5, -17.4), (32, -17.4), (34.5, -17.4), (37, -17.2), (39.5, -17.4), (42, -18.4),
    (18, -20), (20, -19.6), (22.5, -19.6), (25, -19.6), (27.5, -19.6), (30, -19.6), (32.5, -19.6), (35, -19.6), (37.5, -19.6), (40, -19.6),
    (18.5, -21.4), (22.5, -21.6), (25, -21.6), (27.5, -21.6), (30, -21.6), (32.5, -21.6), (35, -21.6), (37.5, -21.6), (40, -21.9),
    (19, -23.4), (21.2, -23.6), (23.4, -23.6), (25.8, -23.6), (28.2, -23.6), (30.8, -23.6), (33.2, -23.6), (36, -23.6), (38.6, -23.6),
    (20.5, -25.4), (23, -25.6), (25.6, -25.6), (28, -25.6), (30.6, -25.6), (33, -25.6), (35.5, -25.6), (38, -25.6),
    (22.6, -27.4), (25.4, -27.4), (28.5, -27.4), (31, -27.4), (33.6, -27.4), (36.2, -27.6),
    (26.4, -29), (30, -29), (33, -29), (36.4, -28),
    (26, 20), (25.6, 23), (26.2, 18), (23.6, 18), (16, 16), (31, 18), (39.5, 14.6),
]

real_all = real_points + real_more + real_fill
fake_all = fake_points + fake_more

real_x = [p[0] for p in real_all]
real_y = [p[1] for p in real_all]
fake_x = [p[0] for p in fake_all]
fake_y = [p[1] for p in fake_all]

x_ticks = [-60, -40, -20, 0, 20, 40, 60, 80]
y_ticks = [-60, -40, -20, 0, 20, 40]

fig = go.Figure()

fig.add_trace(
    go.Scatter(
        x=real_x,
        y=real_y,
        mode="markers",
        name="Real",
        marker=dict(color="green", size=9.7, opacity=0.7, line=dict(width=0)),
    )
)

fig.add_trace(
    go.Scatter(
        x=fake_x,
        y=fake_y,
        mode="markers",
        name="Fake",
        marker=dict(color="red", size=9.7, opacity=0.7, line=dict(width=0)),
    )
)

axis_style = dict(
    showgrid=False,
    zeroline=False,
    showline=True,
    mirror=True,
    linecolor="black",
    linewidth=1,
    ticks="outside",
    ticklen=5,
    tickwidth=1,
    tickcolor="black",
)

# the page has an 8px body margin, so the figure is 16px smaller than the window
fig.update_layout(
    width=784,
    height=584,
    margin=dict(l=92, r=72, t=64, b=58),
    paper_bgcolor="white",
    plot_bgcolor="white",
    font=dict(family="DejaVu Sans", size=14, color="black"),
    title=dict(
        text="stargan",
        x=0.5128,
        xanchor="center",
        y=0.915,
        yanchor="middle",
        font=dict(size=16.7),
    ),
    xaxis=dict(range=[-68.2, 89.2], tickvals=x_ticks, **axis_style),
    yaxis=dict(range=[-60.9, 54.8], tickvals=y_ticks, **axis_style),
    legend=dict(
        x=0.853,
        y=0.992,
        xanchor="left",
        yanchor="top",
        itemwidth=36,
        bgcolor="rgba(0,0,0,0)",
        borderwidth=0,
        font=dict(size=14),
    ),
    # legend frame, plotly's own box is taller than the one in the picture
    shapes=[
        dict(
            type="rect",
            xref="paper",
            yref="paper",
            x0=0.858,
            x1=0.9875,
            y0=0.885,
            y1=0.982,
            line=dict(color="#cccccc", width=1),
            fillcolor="rgba(255,255,255,0.8)",
            layer="above",
        )
    ],
)

fig.write_html("out.html")
